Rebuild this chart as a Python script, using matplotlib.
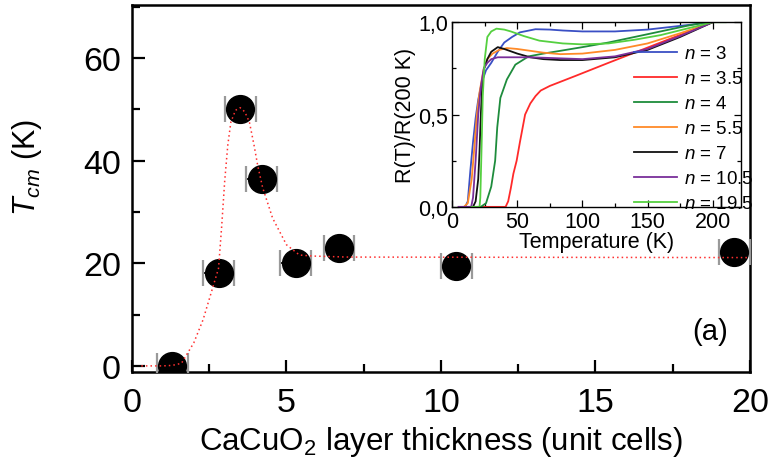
import matplotlib
matplotlib.use("Agg")
import matplotlib.pyplot as plt
from matplotlib.ticker import MultipleLocator, FixedLocator, FixedFormatter

plt.rcParams['font.family'] = ['Liberation Sans', 'DejaVu Sans']
plt.rcParams['mathtext.fontset'] = 'custom'
plt.rcParams['mathtext.rm'] = 'Liberation Sans'
plt.rcParams['mathtext.it'] = 'Liberation Sans:italic'
plt.rcParams['mathtext.bf'] = 'Liberation Sans:bold'

# ---- main panel data ----
thickness = [1.3, 2.8, 3.5, 4.2, 5.3, 6.7, 10.5, 19.5]
tcm = [0.0, 18.0, 50.0, 36.5, 20.0, 23.0, 19.5, 22.2]
thickness_err = [0.5, 0.5, 0.5, 0.5, 0.5, 0.5, 0.5, 0.5]

guide_x = [0.3, 1.0, 1.3, 1.6, 2.0, 2.3, 2.6, 2.8, 2.9, 3.0, 3.1, 3.2, 3.35, 3.5,
           3.65, 3.8, 3.95, 4.07, 4.23, 4.55, 5.0, 5.42, 5.84, 7.0, 20.0]
guide_y = [0.0, 0.0, 0.1, 0.5, 4.5, 9.0, 15.0, 19.0, 27.0, 36.0, 43.0, 47.5, 49.8, 50.3,
           49.5, 47.5, 43.0, 39.0, 34.7, 28.8, 23.6, 21.6, 21.4, 21.2, 21.1]

main_xticks = [0, 5, 10, 15, 20]
main_yticks = [0, 20, 40, 60]

# ---- inset data: R(T)/R(200 K) ----
T_n3 = [5, 10, 12, 14, 16, 18, 20, 23, 26, 30, 35, 40, 46, 52, 64, 75, 85, 100, 125, 150, 175, 200]
R_n3 = [0, 0.0, 0.03, 0.2, 0.35, 0.48, 0.58, 0.68, 0.74, 0.78, 0.84, 0.89, 0.92, 0.945, 0.962, 0.96, 0.955, 0.95, 0.95, 0.96, 0.98, 1.0]

T_n35 = [20, 41, 43, 45, 47, 49.5, 52, 56, 60, 64, 68, 75, 83, 95, 120, 140, 160, 180, 200]
R_n35 = [0, 0, 0.03, 0.1, 0.18, 0.25, 0.35, 0.5, 0.56, 0.6, 0.63, 0.655, 0.677, 0.71, 0.78, 0.835, 0.89, 0.945, 1.0]

T_n4 = [18, 22, 26, 30, 33, 34.6, 37, 42, 48.5, 58.7, 70, 83, 100, 120, 140, 160, 180, 195, 200]
R_n4 = [0, 0, 0.02, 0.11, 0.25, 0.43, 0.59, 0.69, 0.77, 0.815, 0.83, 0.845, 0.865, 0.89, 0.92, 0.95, 0.98, 1.0, 1.0]

T_n55 = [5, 9, 12, 15, 17, 19, 21, 24, 27, 31, 36, 42, 50, 60, 70, 83, 100, 125, 150, 175, 200]
R_n55 = [0, 0, 0.02, 0.15, 0.32, 0.5, 0.62, 0.74, 0.8, 0.83, 0.85, 0.86, 0.855, 0.845, 0.835, 0.827, 0.83, 0.85, 0.885, 0.94, 1.0]

T_n7 = [10, 16, 18, 20, 21, 22, 23, 24.6, 27, 30, 35, 40, 50, 60, 70, 83, 100, 125, 150, 175, 200]
R_n7 = [0, 0, 0.03, 0.15, 0.3, 0.5, 0.65, 0.75, 0.8, 0.84, 0.865, 0.855, 0.83, 0.81, 0.8, 0.795, 0.795, 0.81, 0.85, 0.92, 1.0]

T_n105 = [5, 14.6, 16, 18, 20, 22, 24.3, 27, 30, 35, 45, 60, 80, 100, 125, 150, 175, 200]
R_n105 = [0, 0, 0.05, 0.25, 0.5, 0.65, 0.75, 0.78, 0.8, 0.81, 0.81, 0.81, 0.805, 0.8, 0.815, 0.855, 0.925, 1.0]

T_n195 = [15, 21, 21.6, 22.5, 23.5, 25, 27, 30, 34, 40, 45, 55, 67, 85, 100, 120, 140, 160, 180, 200, 210]
R_n195 = [0, 0, 0.05, 0.3, 0.6, 0.8, 0.92, 0.95, 0.965, 0.96, 0.95, 0.925, 0.9, 0.885, 0.88, 0.885, 0.905, 0.93, 0.965, 1.0, 1.0]

inset_labels = ["$n$ = 3", "$n$ = 3.5", "$n$ = 4", "$n$ = 5.5", "$n$ = 7", "$n$ = 10.5", "$n$ = 19.5"]
inset_colors = ["#3a4fc4", "#ff2a2a", "#1e8c3c", "#ff8a28", "#111111", "#7a2f9a", "#55d040"]
inset_T = [T_n3, T_n35, T_n4, T_n55, T_n7, T_n105, T_n195]
inset_R = [R_n3, R_n35, R_n4, R_n55, R_n7, R_n105, R_n195]

inset_xticks = [0, 50, 100, 150, 200]
inset_yticks = [0.0, 0.5, 1.0]
inset_yticklabels = ["0,0", "0,5", "1,0"]

fig = plt.figure(figsize=(7.69, 4.64), dpi=100)
ax = fig.add_axes([0.1717, 0.196, 0.8033, 0.791])

ax.plot(guide_x, guide_y, linestyle=(0, (1, 2)), color="#ff3030", lw=1.1, zorder=5)
eb = ax.errorbar(thickness, tcm, xerr=thickness_err, fmt='o', color='black',
                 markersize=20, ecolor='black', elinewidth=1.3, capsize=9.5,
                 capthick=1.6, zorder=3)
for cap in eb[1]:
    cap.set_color('#999999')
    cap.set_markeredgecolor('#999999')

ax.set_xlim(0, 20)
ax.set_ylim(-1.2, 70.3)
ax.xaxis.set_major_locator(FixedLocator(main_xticks))
ax.xaxis.set_minor_locator(MultipleLocator(2.5))
ax.yaxis.set_major_locator(FixedLocator(main_yticks))
ax.yaxis.set_minor_locator(MultipleLocator(10))
ax.tick_params(which='both', direction='in', top=False, right=False, width=1.6)
ax.tick_params(which='major', length=9, labelsize=24.5)
ax.tick_params(axis='x', which='major', pad=11)
ax.tick_params(axis='y', which='major', pad=8)
ax.tick_params(which='minor', length=5.5)
for s in ax.spines.values():
    s.set_linewidth(1.8)
ax.set_xlabel("CaCuO$_2$ layer thickness (unit cells)", fontsize=22.5)
ax.set_ylabel("$T_{cm}$ (K)", fontsize=22)
ax.yaxis.set_label_coords(-0.143, 0.56)
ax.xaxis.labelpad = 4
ax.text(0.964, 0.075, "(a)", transform=ax.transAxes, fontsize=21, ha='right', va='bottom')

# ---- inset ----
ins = fig.add_axes([0.588, 0.552, 0.376, 0.398])
for T, R, c, lab in zip(inset_T, inset_R, inset_colors, inset_labels):
    ins.plot(T, R, color=c, lw=1.3, label=lab)
ins.set_xlim(0, 222)
ins.set_ylim(0, 1.0)
ins.xaxis.set_major_locator(FixedLocator(inset_xticks))
ins.xaxis.set_minor_locator(MultipleLocator(25))
ins.yaxis.set_major_locator(FixedLocator(inset_yticks))
ins.yaxis.set_major_formatter(FixedFormatter(inset_yticklabels))
ins.yaxis.set_minor_locator(MultipleLocator(0.25))
ins.tick_params(which='both', direction='in', top=True, right=True, width=0.9)
ins.tick_params(which='major', length=5, labelsize=15.5, pad=3)
ins.tick_params(which='minor', length=3)
for s in ins.spines.values():
    s.set_linewidth(1.0)
ins.set_xlabel("Temperature (K)", fontsize=15.5, labelpad=-1)
ins.set_ylabel("R(T)/R(200 K)", fontsize=15.5, labelpad=1)
ins.legend(loc='upper left', bbox_to_anchor=(0.63, 0.875), frameon=False,
           fontsize=13.5, handlelength=2.3, handletextpad=0.35, labelspacing=0.42,
           borderpad=0, borderaxespad=0)

fig.savefig("out.png", dpi=100)
